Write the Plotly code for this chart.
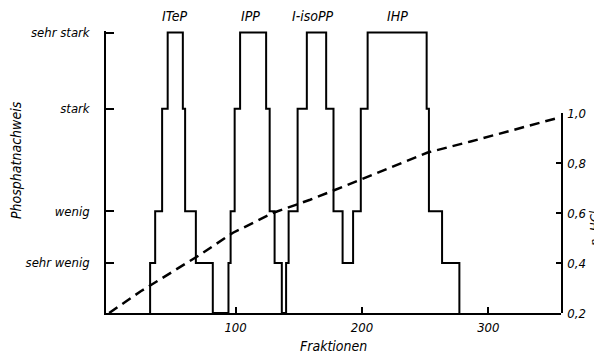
import plotly.graph_objects as go

# ---- data ----
# fraction numbers where the phosphate-detection step changes level
step_edges = [32.4, 36.4, 41.9, 46.3, 58.3, 60.1, 68.6, 82.0,
              94.4, 96.1, 99.3, 103.6, 124.2, 127.0, 130.9, 136.6,
              140.0, 142.0, 149.1, 156.4, 171.7, 177.5, 184.7, 193.0,
              199.1, 204.5, 251.2, 253.0, 263.4, 277.1]
# level index after each edge (0 = none ... 4 = sehr stark)
step_levels = [1, 2, 3, 4, 3, 2, 1, 0,
               1, 2, 3, 4, 3, 2, 1, 0,
               1, 2, 3, 4, 3, 2, 1, 2,
               3, 4, 3, 2, 1, 0]
level_names = ["", "sehr wenig", "wenig", "stark", "sehr stark"]
level_pos = [0, 1.0, 2.03, 4.08, 5.6]   # axis position of each level

# HCl gradient (dashed)
hcl_x = [0, 25, 70, 98, 130, 159, 177, 199, 252, 286, 357]
hcl_y = [0.2, 0.287, 0.427, 0.521, 0.601, 0.653, 0.689, 0.733, 0.842, 0.886, 0.983]

peak_names = ["ITeP", "IPP", "I-isoPP", "IHP"]
peak_x = [51.3, 111.5, 161.3, 227.8]

x_ticks = [100, 200, 300]
hcl_ticks = [0.2, 0.4, 0.6, 0.8, 1.0]

FONT = "DejaVu Sans Condensed, Liberation Sans Narrow, DejaVu Sans, sans-serif"

def f(size):
    return dict(family=FONT, size=size, color="black", style="italic")

step_x = [step_edges[0]] + step_edges
step_y = [0] + [level_pos[l] for l in step_levels]

fig = go.Figure()
fig.add_trace(go.Scatter(x=step_x, y=step_y, mode="lines", line_shape="hv",
                         line=dict(color="black", width=2), xaxis="x", yaxis="y",
                         hoverinfo="skip"))
fig.add_trace(go.Scatter(x=hcl_x, y=hcl_y, mode="lines",
                         line=dict(color="black", width=2.5, dash="10px,6px"),
                         xaxis="x", yaxis="y2", hoverinfo="skip"))

# page body adds an 8px offset, so the figure is 8px smaller
L, R, T, B = 98, 41, 23, 47
W, H = 594, 352
plot_h = H - T - B   # 282
plot_w = W - L - R   # 455

fig.update_layout(
    width=W, height=H,
    margin=dict(l=L, r=R, t=T, b=B, pad=0),
    paper_bgcolor="white", plot_bgcolor="rgba(0,0,0,0)",
    showlegend=False,
    separators=",.",
    xaxis=dict(range=[-2.5, 357.5], showgrid=False, zeroline=False,
               showline=True, linecolor="black", linewidth=1.5,
               ticks="inside", ticklen=6, tickwidth=1.5, tickcolor="black",
               tickvals=x_ticks, tickfont=f(13), ticklabelstandoff=2),
    yaxis=dict(range=[0, 5.63], showgrid=False, zeroline=False,
               showline=True, linecolor="black", linewidth=1.5,
               ticks="inside", ticklen=8, tickwidth=1.5, tickcolor="black",
               tickvals=level_pos[1:], ticktext=level_names[1:],
               tickfont=f(13), ticklabelstandoff=12),
    yaxis2=dict(domain=[0, 200 / plot_h], range=[0.2, 1.0], anchor="x", side="right",
                showgrid=False, zeroline=False,
                showline=True, linecolor="black", linewidth=1.5,
                ticks="inside", ticklen=5, tickwidth=1.5, tickcolor="black",
                tickvals=hcl_ticks, tickformat=".1f", tickfont=f(13),
                ticklabelstandoff=2),
)

ann = []
for name, px in zip(peak_names, peak_x):
    ann.append(dict(x=px, y=(313 - 16) / plot_h, xref="x", yref="paper",
                    text=name, showarrow=False, font=f(14),
                    xanchor="center", yanchor="middle"))
ann.append(dict(x=(333 - 106) / plot_w, y=(313 - 346) / plot_h, xref="paper", yref="paper",
                text="Fraktionen", showarrow=False, font=f(14),
                xanchor="center", yanchor="middle"))
ann.append(dict(x=(16 - 106) / plot_w, y=(313 - 160) / plot_h, xref="paper", yref="paper",
                text="Phosphatnachweis", showarrow=False, font=f(14), textangle=-90,
                xanchor="center", yanchor="middle"))
ann.append(dict(x=(594 - 106) / plot_w, y=(313 - 228) / plot_h, xref="paper", yref="paper",
                text="n. HCl", showarrow=False, font=f(13), textangle=-90,
                xanchor="center", yanchor="middle"))
fig.update_layout(annotations=ann)

fig.write_html("out.html")
